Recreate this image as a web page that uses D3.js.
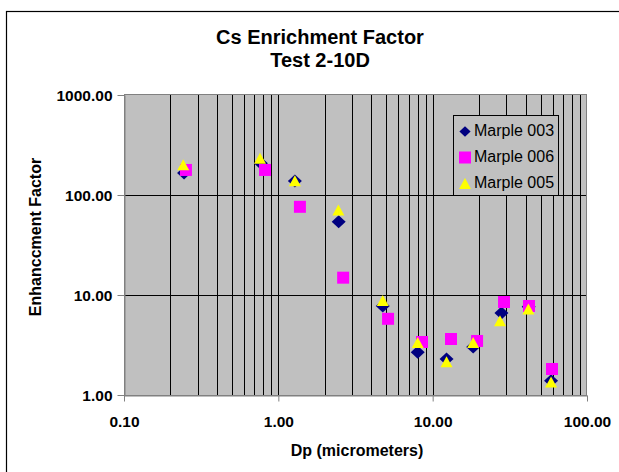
<!DOCTYPE html>
<html><head><meta charset="utf-8">
<script src="https://cdn.jsdelivr.net/npm/d3@7"></script>
<style>
body{margin:0;background:#fff}
svg{display:block}
text{font-family:"Liberation Sans",Arial,sans-serif}
</style></head><body>
<script>
// ---- data ----
const seriesNames = ["Marple 003", "Marple 006", "Marple 005"];
const marple003X = [0.245, 0.77, 1.28, 2.46, 4.75, 8.0, 12.3, 18.3, 27.9, 41.9, 58.5];
const marple003Y = [166, 208, 138, 54.1, 7.76, 2.67, 2.29, 3.02, 6.6, 7.64, 1.39];
const marple006X = [0.252, 0.82, 1.38, 2.63, 5.14, 8.53, 13.15, 19.4, 29.0, 42.1, 59.3];
const marple006Y = [178, 178, 76.2, 14.9, 5.78, 3.39, 3.63, 3.47, 8.51, 7.76, 1.82];
const marple005X = [0.242, 0.761, 1.28, 2.45, 4.75, 8.0, 12.3, 18.3, 27.3, 41.7, 58.5];
const marple005Y = [201, 233, 139, 70.8, 8.81, 3.35, 2.15, 3.35, 5.52, 7.24, 1.35];
const xTicks = [0.1, 1, 10, 100];
const xTickLabels = ["0.10", "1.00", "10.00", "100.00"];
const yTicks = [1, 10, 100, 1000];
const yTickLabels = ["1.00", "10.00", "100.00", "1000.00"];
const titleLines = ["Cs Enrichment Factor", "Test 2-10D"];
const xTitle = "Dp (micrometers)";
const yTitle = "Enhanccment Factor";

// ---- layout ----
const W = 619, H = 472;
const L = 124, R = 587, T = 95, B = 395;
const svg = d3.select("body").append("svg").attr("width", W).attr("height", H);

svg.append("rect").attr("x", 6.5).attr("y", 11.5).attr("width", 800).attr("height", 600)
  .attr("fill", "#fff").attr("stroke", "#000").attr("stroke-width", 1.2);

const x = d3.scaleLog().domain([0.1, 100]).range([L, R]);
const y = d3.scaleLog().domain([1, 1000]).range([B, T]);
const px = v => Math.round(v) + 0.5;

svg.append("rect").attr("x", L).attr("y", T).attr("width", R - L).attr("height", B - T).attr("fill", "#c0c0c0");

// vertical gridlines (major + minor)
const xGrid = [];
xTicks.slice(0, -1).forEach(d => { for (let k = 1; k <= 9; k++) xGrid.push(d * k); });
svg.append("g").selectAll("line").data(xGrid.filter(v => v > 0.1)).join("line")
  .attr("x1", d => px(x(d))).attr("x2", d => px(x(d))).attr("y1", T).attr("y2", B)
  .attr("stroke", "#000").attr("stroke-width", 1);
// horizontal gridlines (major)
svg.append("g").selectAll("line").data(yTicks.slice(1, -1)).join("line")
  .attr("y1", d => px(y(d))).attr("y2", d => px(y(d))).attr("x1", L).attr("x2", R)
  .attr("stroke", "#000").attr("stroke-width", 1);

// plot border
svg.append("rect").attr("x", L + 0.5).attr("y", T - 0.5).attr("width", R - L - 1).attr("height", B - T + 1)
  .attr("fill", "none").attr("stroke", "#808080").attr("stroke-width", 1);

// axes
const xAxis = svg.append("g").attr("transform", `translate(0,${B + 0.5})`)
  .call(d3.axisBottom(x).tickValues(xTicks).tickSize(6).tickSizeOuter(0)
    .tickFormat((d, i) => xTickLabels[i]));
const yAxis = svg.append("g").attr("transform", `translate(${L + 0.5},0)`)
  .call(d3.axisLeft(y).tickValues(yTicks).tickSize(7).tickSizeOuter(0)
    .tickFormat((d, i) => yTickLabels[i]));
[xAxis, yAxis].forEach(a => {
  a.select(".domain").attr("stroke", "#808080");
  a.selectAll(".tick line").attr("stroke", "#808080");
  a.selectAll("text").attr("fill", "#000").attr("font-size", 15.5).attr("font-weight", "bold")
    .attr("font-family", '"Liberation Sans",Arial,sans-serif');
});
xAxis.selectAll(".tick text").attr("dy", null).attr("y", 31);
yAxis.selectAll(".tick text").attr("x", -12).attr("dy", "0.35em");

// titles
svg.append("g").selectAll("text").data(titleLines).join("text")
  .attr("x", 320).attr("y", (d, i) => 44 + i * 23).attr("text-anchor", "middle")
  .attr("font-size", 20).attr("font-weight", "bold").text(d => d);
svg.append("text").attr("x", 357).attr("y", 456).attr("text-anchor", "middle")
  .attr("font-size", 16).attr("font-weight", "bold").text(xTitle);
svg.append("text").attr("transform", "translate(41,237) rotate(-90)").attr("text-anchor", "middle")
  .attr("font-size", 16).attr("font-weight", "bold").text(yTitle);

// markers
const diamond = {draw(c, s) { const w = 7, h = 6.5; c.moveTo(0, -h); c.lineTo(w, 0); c.lineTo(0, h); c.lineTo(-w, 0); c.closePath(); }};
const square = {draw(c, s) { const r = 6; c.moveTo(-r, -r); c.lineTo(r, -r); c.lineTo(r, r); c.lineTo(-r, r); c.closePath(); }};
const triangle = {draw(c, s) { const w = 6, h = 5.5; c.moveTo(0, -h); c.lineTo(w, h); c.lineTo(-w, h); c.closePath(); }};
const series = [
  {name: seriesNames[0], xs: marple003X, ys: marple003Y, type: diamond, color: "#000080"},
  {name: seriesNames[1], xs: marple006X, ys: marple006Y, type: square, color: "#ff00ff"},
  {name: seriesNames[2], xs: marple005X, ys: marple005Y, type: triangle, color: "#ffff00"}
];
series.forEach(s => {
  svg.append("g").selectAll("path").data(s.xs.map((v, i) => [v, s.ys[i]])).join("path")
    .attr("transform", d => `translate(${x(d[0])},${y(d[1])})`)
    .attr("d", d3.symbol().type(s.type)()).attr("fill", s.color);
});

// legend
const lg = svg.append("g");
lg.append("rect").attr("x", 453.5).attr("y", 115.5).attr("width", 105).attr("height", 80)
  .attr("fill", "#c0c0c0").attr("stroke", "#000").attr("stroke-width", 1);
series.forEach((s, i) => {
  const cy = 130 + i * 26;
  lg.append("path")
    .attr("d", d3.symbol().type(s.type)()).attr("fill", s.color)
    .attr("transform", `translate(465,${cy + 1.5}) scale(${i === 0 ? 0.8 : 1})`);
  lg.append("text").attr("x", 474).attr("y", cy).attr("dy", "0.35em")
    .attr("font-size", 16).text(s.name);
});
</script>
</body></html>
